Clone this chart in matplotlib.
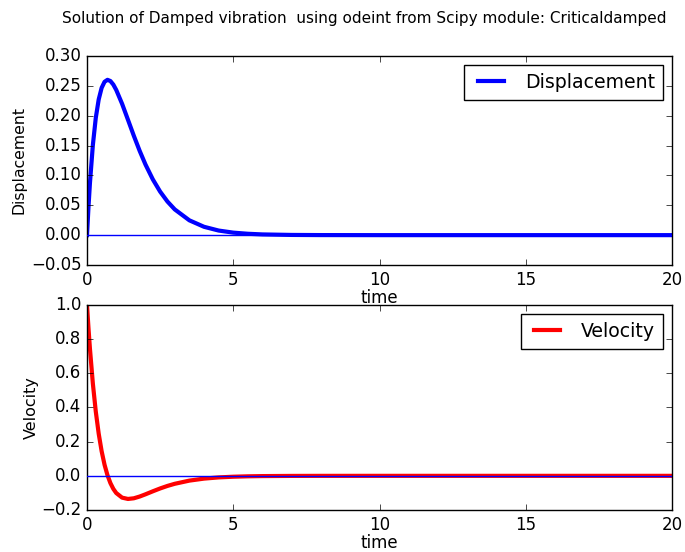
import matplotlib
matplotlib.use("Agg")
import matplotlib.pyplot as plt

t_vals = [0, 0.05, 0.1, 0.2, 0.3, 0.4, 0.5, 0.6, 0.7, 0.8, 0.9, 1.0, 1.2, 1.4, 1.6, 1.8,
          2.0, 2.25, 2.5, 2.75, 3.0, 3.5, 4.0, 4.5, 5.0, 5.5, 6.0, 7.0, 8.0, 10.0, 20.0]
displacement = [0, 0.0466, 0.0868, 0.1507, 0.1963, 0.2272, 0.2466, 0.2568, 0.2601, 0.2581,
                0.2521, 0.2431, 0.2199, 0.1933, 0.1665, 0.1412, 0.1182, 0.0934, 0.0729,
                0.0563, 0.0431, 0.0248, 0.0140, 0.0077, 0.0042, 0.0023, 0.0012, 0.00035,
                0.0001, 0.0, 0.0]
velocity = [1.0, 0.8659, 0.7453, 0.5405, 0.3766, 0.2467, 0.1444, 0.0648, 0.0037, -0.0424,
            -0.0764, -0.1007, -0.1277, -0.1353, -0.1315, -0.1212, -0.1081, -0.0906, -0.0739,
            -0.0591, -0.0466, -0.0280, -0.0163, -0.0092, -0.0052, -0.0028, -0.0015, -0.00045,
            -0.00012, 0.0, 0.0]

title = "Solution of Damped vibration  using odeint from Scipy module: Criticaldamped"

plt.style.use('classic')
plt.rcParams['figure.facecolor'] = 'white'
plt.rcParams['savefig.facecolor'] = 'white'

fig = plt.figure(figsize=(6.85, 5.52), dpi=100)
W, H = 685.0, 552.0
ax1 = fig.add_axes([87 / W, 1 - 265 / H, 585 / W, 209 / H])
ax2 = fig.add_axes([87 / W, 1 - 510 / H, 585 / W, 205 / H])

ax1.plot(t_vals, displacement, color='b', lw=3, label='Displacement')
ax1.axhline(0, color='b', lw=1, zorder=3)
ax1.set_xlim(0, 20)
ax1.set_ylim(-0.05, 0.30)
ax1.set_xlabel('time', labelpad=0)
ax1.set_ylabel('Displacement', fontsize=11.3, labelpad=3)
ax1.legend(loc='upper right', fontsize=13.6)

ax2.plot(t_vals, velocity, color='r', lw=3, label='Velocity')
ax2.axhline(0, color='b', lw=1, zorder=3)
ax2.set_xlim(0, 20)
ax2.set_ylim(-0.2, 1.0)
ax2.set_xlabel('time', labelpad=0)
ax2.set_ylabel('Velocity', fontsize=11.5, labelpad=2)
ax2.legend(loc='upper right', fontsize=13.6)

fig.text(364 / W, 1 - 18 / H, title, ha='center', va='center', fontsize=11)

fig.savefig('out.png', dpi=100)
